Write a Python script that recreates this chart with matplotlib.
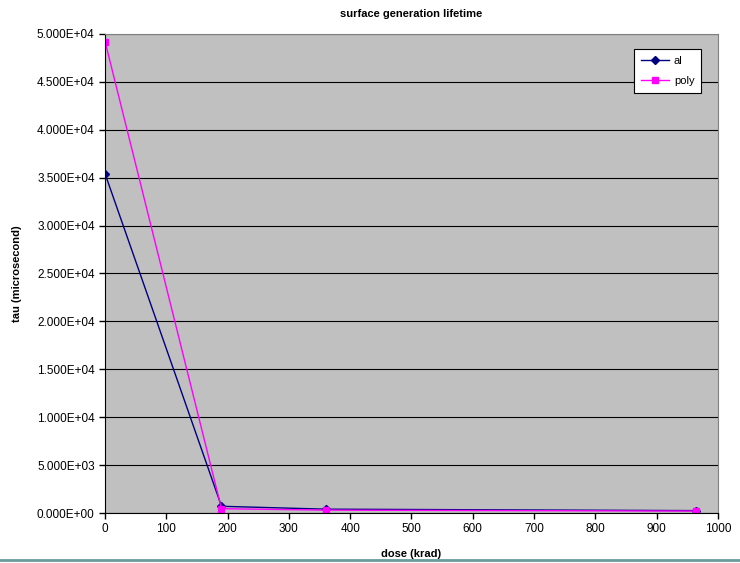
import numpy as np
import matplotlib.pyplot as plt
from matplotlib.ticker import FormatStrFormatter
from matplotlib.lines import Line2D

dose = [0, 190, 360, 965]
tau_al = [35400, 700, 400, 250]
tau_poly = [49200, 450, 300, 200]

plt.rcParams['font.family'] = ['Liberation Sans', 'DejaVu Sans']

fig = plt.figure(figsize=(7.4, 5.63), dpi=100)
ax = fig.add_axes([0.142, 0.0888, 0.828, 0.851])
ax.set_facecolor('#c0c0c0')

ax.plot(dose, tau_al, color='#000080', marker='D', markersize=4, linewidth=1, label='al')
ax.plot(dose, tau_poly, color='#ff00ff', marker='s', markersize=5, linewidth=1, label='poly')

ax.set_xlim(0, 1000)
ax.set_ylim(0, 50000)
ax.set_xticks(np.arange(0, 1001, 100))
ax.set_yticks(np.arange(0, 50001, 5000))
ax.yaxis.set_major_formatter(FormatStrFormatter('%.3E'))
ax.grid(axis='y', color='black', linewidth=0.8)
ax.set_axisbelow(True)
ax.tick_params(labelsize=8.5, direction='out', length=4, width=1)

for s in ['top', 'right']:
    ax.spines[s].set_color('#808080')
    ax.spines[s].set_linewidth(0.8)

ax.set_title('surface generation lifetime', fontsize=8, fontweight='bold', pad=12)
ax.set_xlabel('dose (krad)', fontsize=8, fontweight='bold', labelpad=10)
ax.set_ylabel('tau (microsecond)', fontsize=8, fontweight='bold', labelpad=11)

leg = ax.legend(loc='upper right', bbox_to_anchor=(0.982, 0.98), fontsize=8,
                fancybox=False, framealpha=1, edgecolor='black',
                handlelength=2.6, borderpad=0.6, labelspacing=0.95,
                handletextpad=0.4)
leg.get_frame().set_linewidth(0.8)

fig.add_artist(Line2D([0, 1], [0.006, 0.006], color='#6a9a9a', linewidth=2))

fig.savefig('out.png', dpi=100)
